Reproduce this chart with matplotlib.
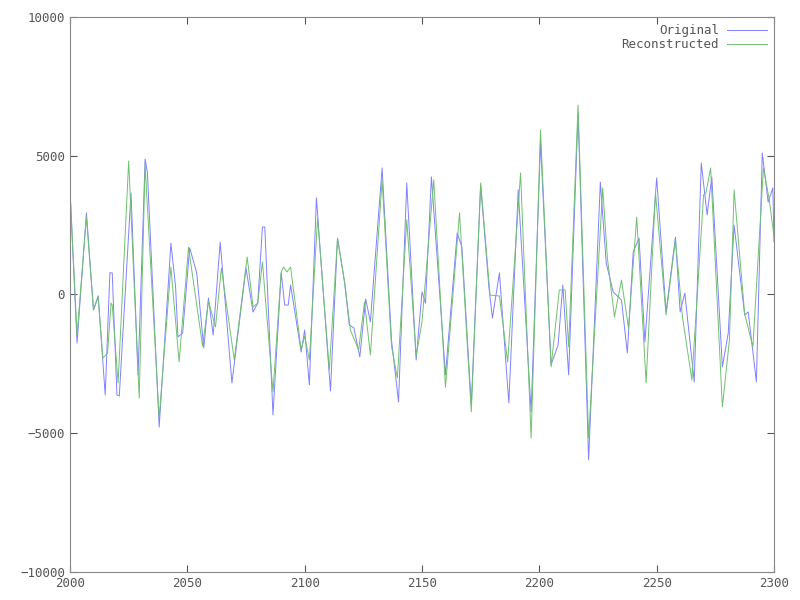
import matplotlib
matplotlib.use("Agg")
import matplotlib.pyplot as plt

orig_x = [2000,2003,2007,2010,2012,2015,2017,2018,2020,2021,2026,2029,2032,2033,2038,2043,2045,2046,2048,2051,
          2054,2057,2059,2061,2064,2069,2075,2078,2080,2082,2083,2086.5,2090,2091.5,2093,2094,2098.5,2100,
          2102,2105,2111,2114,2117,2119,2121,2123.5,2126,2128,2133,2137,2140,2143.5,2147.5,2150,2151.5,
          2154,2160,2165,2167,2171,2175,2178.5,2180,2183,2187,2191,2196.5,2200.5,2205,2208,2210,2212.5,
          2216.5,2221,2226,2228.5,2231.5,2235,2237.5,2240,2242.5,2245,2250,2254,2258,2260,2262,2266,2269,
          2271.5,2273.5,2278,2280.5,2283,2287.5,2289,2292.5,2295,2297.5,2299.5,2300]
orig_y = [3770,-1750,2940,-560,-50,-3620,780,780,-3620,-3660,3660,-2900,4880,4380,-4780,1850,270,-1530,-1390,1680,
          780,-1930,-130,-1460,1890,-3190,950,-630,-310,2430,2430,-4340,780,-380,-380,340,-2070,-1280,
          -3260,3480,-3480,2030,450,-1100,-1210,-2250,-160,-990,4560,-1640,-3870,4020,-2360,90,-310,
          4240,-2900,2220,1710,-3980,3950,270,-850,780,-3910,3770,-4230,5500,-2540,-1820,340,-2900,
          6540,-5960,4050,1130,90,-200,-2110,1530,2030,-1710,4200,-630,2070,-630,50,-3150,4740,
          2870,4240,-2610,-1390,2500,-740,-630,-3150,5100,3330,3840,1900]

rec_x = [2000,2003,2007,2010,2012,2014,2016,2017.5,2018,2020.5,2025,2029.5,2032,2038,2043,2046.5,2050.5,
         2056.5,2059,2062,2064.5,2070,2075.5,2078,2080,2082,2086.5,2090,2091,2092.5,2094,2098.5,2100,
         2102,2105.5,2110.5,2114,2117,2119.5,2123,2125.5,2128,2133,2137,2139.5,2143.5,2147.5,2150,
         2155,2160,2166,2171,2175,2179,2183,2186.5,2192,2196.5,2200.5,2205,2208.5,2211,2212.5,2216.5,2221,
         2227,2229,2232,2235,2238,2241.5,2245.5,2249.5,2254,2258,2261,2265,2270,2271,2273,2278,2281,2283,
         2287.5,2291,2295.5,2298,2300]
rec_y = [3770,-1460,2800,-560,-90,-2290,-2110,-310,-380,-3190,4810,-3730,4670,-4450,990,-2430,1700,
         -1860,-240,-1170,950,-2360,1350,-450,-310,1170,-3510,810,990,810,990,-2000,-1500,
         -2360,2760,-2720,2030,450,-1280,-2000,-270,-2180,4130,-1860,-3010,2690,-2210,-990,
         4130,-3340,2940,-4230,4020,-20,-55,-2430,4380,-5170,5930,-2610,160,160,-1890,6830,-5170,
         3840,1310,-810,520,-1210,2790,-3190,3660,-740,1960,-810,-3080,3590,3660,4560,-4050,-1640,3770,
         -700,-1890,4560,3410,2070]

fig = plt.figure(figsize=(8, 6), dpi=100)
ax = fig.add_axes([0.0875, 0.0467, 0.88, 0.925])
ax.plot(orig_x, orig_y, color="#8080ff", lw=0.7, label="Original")
ax.plot(rec_x, rec_y, color="#70c070", lw=0.7, label="Reconstructed")
ax.set_xlim(2000, 2300)
ax.set_ylim(-10000, 10000)
ax.set_xticks([2000, 2050, 2100, 2150, 2200, 2250, 2300])
ax.set_yticks([-10000, -5000, 0, 5000, 10000])
ax.tick_params(direction="in", top=True, right=True, labelsize=9, colors="#555555", length=5)
for s in ax.spines.values():
    s.set_color("#888888")
for lab in ax.get_xticklabels() + ax.get_yticklabels():
    lab.set_family("DejaVu Sans Mono")
leg = ax.legend(loc="upper right", frameon=False, markerfirst=False, handlelength=3.2,
                prop={"family": "DejaVu Sans Mono", "size": 9}, borderaxespad=0.2, labelspacing=0.05,
                handletextpad=0.6)
for t in leg.get_texts():
    t.set_color("#555555")
fig.savefig("out.png")
